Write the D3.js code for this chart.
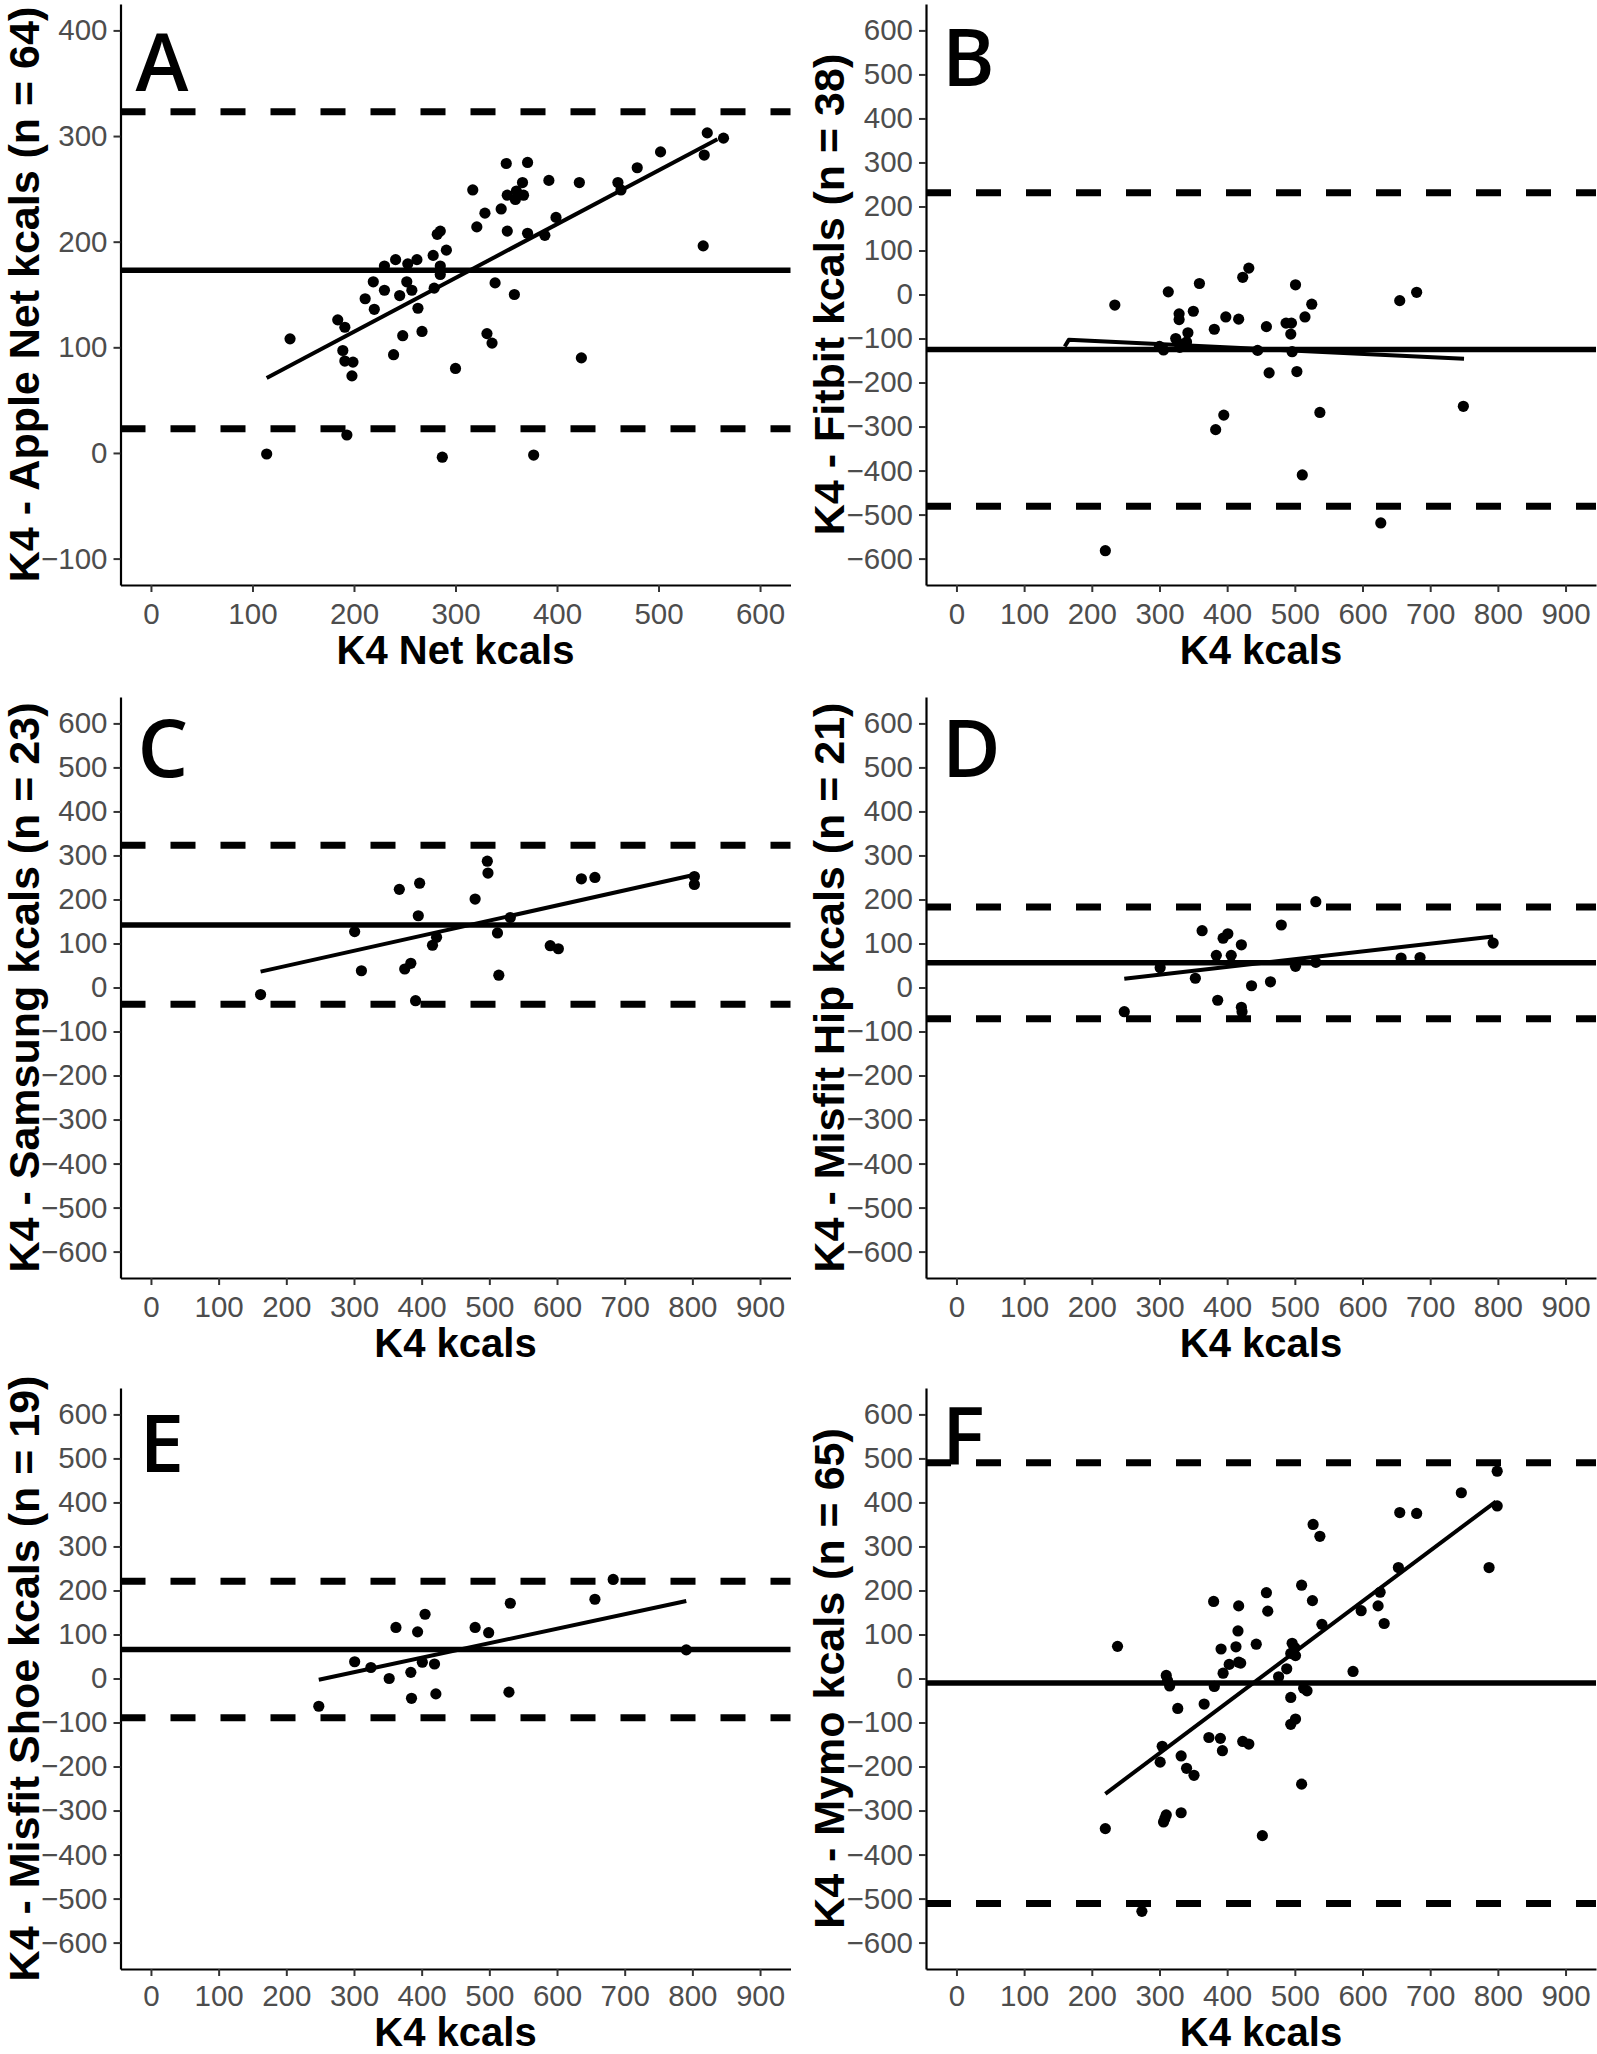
<!DOCTYPE html>
<html><head><meta charset="utf-8">
<script src="https://cdn.jsdelivr.net/npm/d3@7"></script>
<style>
body{margin:0;background:#fff}
svg{display:block}
</style>
</head><body>
<script>
// ---------- DATA ----------
const panelLetters = ["A", "B", "C", "D", "E", "F"];
const yTitles = [
  "K4 - Apple Net kcals (n = 64)",
  "K4 - Fitbit kcals (n = 38)",
  "K4 - Samsung kcals (n = 23)",
  "K4 - Misfit Hip kcals (n = 21)",
  "K4 - Misfit Shoe kcals (n = 19)",
  "K4 - Mymo kcals (n = 65)"
];
const xTitles = ["K4 Net kcals", "K4 kcals", "K4 kcals", "K4 kcals", "K4 kcals", "K4 kcals"];

const xTicksNet = [0, 100, 200, 300, 400, 500, 600];
const xTicksK4 = [0, 100, 200, 300, 400, 500, 600, 700, 800, 900];
const yTicksNet = [-100, 0, 100, 200, 300, 400];
const yTicksK4 = [-600, -500, -400, -300, -200, -100, 0, 100, 200, 300, 400, 500, 600];

const appleNet = [[114,-1],[137,108],[184,126],[191,119],[189,97],[191,87],[199,86],[198,73],[193,17],[211,146],
  [220,136],[219,162],[230,154],[230,177],[241,183],[245,149],[252,162],[253,179],[257,154],[262,183],
  [263,137],[248,111],[267,115],[239,93],[279,156],[278,187],[282,207],[285,210],[285,177],[285,169],
  [291,192],[287,-4],[300,80],[317,249],[321,214],[329,227],[345,231],[350,274],[351,244],[351,210],
  [339,161],[358,150],[331,113],[336,104],[360,248],[366,256],[367,244],[359,240],[371,275],[371,208],
  [377,-2],[388,206],[392,258],[399,223],[422,256],[424,90],[460,256],[463,249],[479,270],[502,285],
  [545,282],[548,303],[544,196],[564,298]];
const fitbit = [[220,-582],[234,-24],[313,6],[306,-126],[329,-44],[329,-57],[324,-100],[333,-113],[342,-87],[350,-38],
  [359,25],[381,-79],[383,-307],[395,-274],[398,-51],[417,-56],[423,39],[432,60],[445,-127],[458,-73],
  [462,-178],[487,-65],[495,-65],[494,-90],[496,-130],[501,22],[503,-175],[511,-410],[515,-51],[525,-22],
  [537,-268],[627,-519],[655,-14],[680,5],[749,-254],[300,-118],[340,-108],[330,-120]];
const samsung = [[162,-16],[301,127],[311,38],[367,223],[375,42],[384,55],[391,-30],[395,163],[397,237],[416,96],
  [422,114],[479,201],[497,287],[498,260],[512,124],[514,28],[531,159],[590,95],[602,88],[636,247],
  [656,250],[803,252],[803,234]];
const misfitHip = [[248,-55],[301,45],[353,21],[363,129],[384,73],[386,-29],[394,112],[401,122],[406,73],[421,97],
  [421,-45],[422,-55],[436,4],[464,13],[480,142],[501,48],[531,195],[531,57],[657,67],[685,68],[793,101]];
const misfitShoe = [[248,-63],[301,38],[325,25],[352,0],[362,116],[384,14],[385,-45],[394,106],[401,37],[405,146],
  [419,33],[421,-35],[479,116],[499,104],[529,-31],[531,171],[656,180],[683,225],[791,65]];
const mymo = [[220,-341],[238,73],[274,-529],[301,-190],[304,-154],[310,7],[315,-17],[306,-326],[310,-310],[327,-68],
  [332,-176],[332,-305],[340,-204],[351,-220],[366,-58],[373,-134],[381,-18],[380,175],[390,-136],[393,-164],
  [391,67],[394,12],[403,32],[413,72],[417,37],[417,165],[416,108],[423,-143],[432,-149],[443,78],
  [452,-357],[458,195],[460,153],[476,4],[488,22],[494,57],[496,80],[501,52],[494,-43],[501,-92],
  [494,-104],[510,212],[510,-240],[513,-22],[518,-28],[526,177],[527,350],[537,323],[540,123],[586,16],
  [598,154],[623,165],[626,196],[632,125],[653,252],[655,377],[680,375],[746,422],[787,252],[799,392],
  [799,471],[312,-5],[308,-318],[420,35],[500,70]];

const seriesData = [appleNet, fitbit, samsung, misfitHip, misfitShoe, mymo];
const meanBias = [173, -125, 142, 56, 66, -10];
const upperLoA = [323, 231, 323, 183, 221, 490];
const lowerLoA = [23, -481, -38, -71, -89, -511];
const regLines = [
  [[114, 71], [558, 297]],
  [[160, -118], [166, -103], [750, -146]],
  [[162, 36], [800, 255]],
  [[248, 20], [793, 116]],
  [[248, -3], [791, 176]],
  [[220, -262], [797, 402]]
];
const xLimits = [[0, 600], [0, 900], [0, 900], [0, 900], [0, 900], [0, 900]];
const yLimits = [[-100, 400], [-600, 600], [-600, 600], [-600, 600], [-600, 600], [-600, 600]];
const xTickSets = [xTicksNet, xTicksK4, xTicksK4, xTicksK4, xTicksK4, xTicksK4];
const yTickSets = [yTicksNet, yTicksK4, yTicksK4, yTicksK4, yTicksK4, yTicksK4];

// ---------- LAYOUT ----------
const W = 1597, H = 2054;
const colLeft = [120.5, 926];
const rowTop = [4, 697, 1388];
const xTitleOffset = [79, 79, 77];
const xTickPad = [11, 11, 9.5];
const plotW = 670, plotH = 581;
const letterOffsets = [[15, 87], [16, 82], [17, 80], [16, 80], [19, 84], [16, 77]];

const svg = d3.select("body").append("svg").attr("width", W).attr("height", H);

function expand(lim) { const d = (lim[1] - lim[0]) * 0.05; return [lim[0] - d, lim[1] + d]; }

seriesData.forEach((pts, i) => {
  const col = i % 2, row = Math.floor(i / 2);
  const g = svg.append("g").attr("transform", `translate(${colLeft[col]},${rowTop[row]})`);
  const x = d3.scaleLinear().domain(expand(xLimits[i])).range([0, plotW]);
  const y = d3.scaleLinear().domain(expand(yLimits[i])).range([plotH, 0]);

  // points
  g.append("g").selectAll("circle").data(pts).join("circle")
    .attr("cx", d => x(d[0])).attr("cy", d => y(d[1])).attr("r", 5.6).attr("fill", "#000");

  // mean line
  g.append("line").attr("x1", 0).attr("x2", plotW)
    .attr("y1", y(meanBias[i])).attr("y2", y(meanBias[i]))
    .attr("stroke", "#000").attr("stroke-width", 5.5);
  // limits of agreement
  [upperLoA[i], lowerLoA[i]].forEach(v => {
    g.append("line").attr("x1", 0).attr("x2", plotW)
      .attr("y1", y(v)).attr("y2", y(v))
      .attr("stroke", "#000").attr("stroke-width", 7).attr("stroke-dasharray", "25,25");
  });
  // regression line
  g.append("path").datum(regLines[i])
    .attr("d", d3.line().x(d => x(d[0])).y(d => y(d[1])))
    .attr("fill", "none").attr("stroke", "#000").attr("stroke-width", 4)
    .attr("stroke-linejoin", "round");

  // axes
  const ax = g.append("g").attr("transform", `translate(0,${plotH})`)
    .call(d3.axisBottom(x).tickValues(xTickSets[i]).tickSize(7).tickSizeOuter(0).tickPadding(xTickPad[row]));
  const ay = g.append("g")
    .call(d3.axisLeft(y).tickValues(yTickSets[i]).tickSize(7).tickSizeOuter(0).tickPadding(6));
  [ax, ay].forEach(a => {
    a.select(".domain").attr("stroke", "#000").attr("stroke-width", 2.2);
    a.selectAll(".tick line").attr("stroke", "#333").attr("stroke-width", 2);
    a.selectAll(".tick text").attr("fill", "#4d4d4d")
      .style("font-family", "'Liberation Sans', Arial, sans-serif").style("font-size", "29.5px");
  });

  // titles
  g.append("text").attr("x", plotW / 2).attr("y", plotH + xTitleOffset[row])
    .attr("text-anchor", "middle")
    .style("font-family", "'Liberation Sans', Arial, sans-serif").style("font-weight", "bold")
    .style("font-size", "40px").attr("fill", "#000").text(xTitles[i]);
  g.append("text").attr("transform", `translate(${-82},${plotH / 2}) rotate(-90)`)
    .attr("text-anchor", "middle")
    .style("font-family", "'Liberation Sans', Arial, sans-serif").style("font-weight", "bold")
    .style("font-size", "43px").attr("fill", "#000").text(yTitles[i]);

  // panel letter
  g.append("text").attr("x", letterOffsets[i][0]).attr("y", letterOffsets[i][1])
    .style("font-family", "'Open Sans', sans-serif").style("font-size", "80px")
    .style("font-weight", 600)
    .attr("fill", "#000").text(panelLetters[i]);
});
</script>
</body></html>
